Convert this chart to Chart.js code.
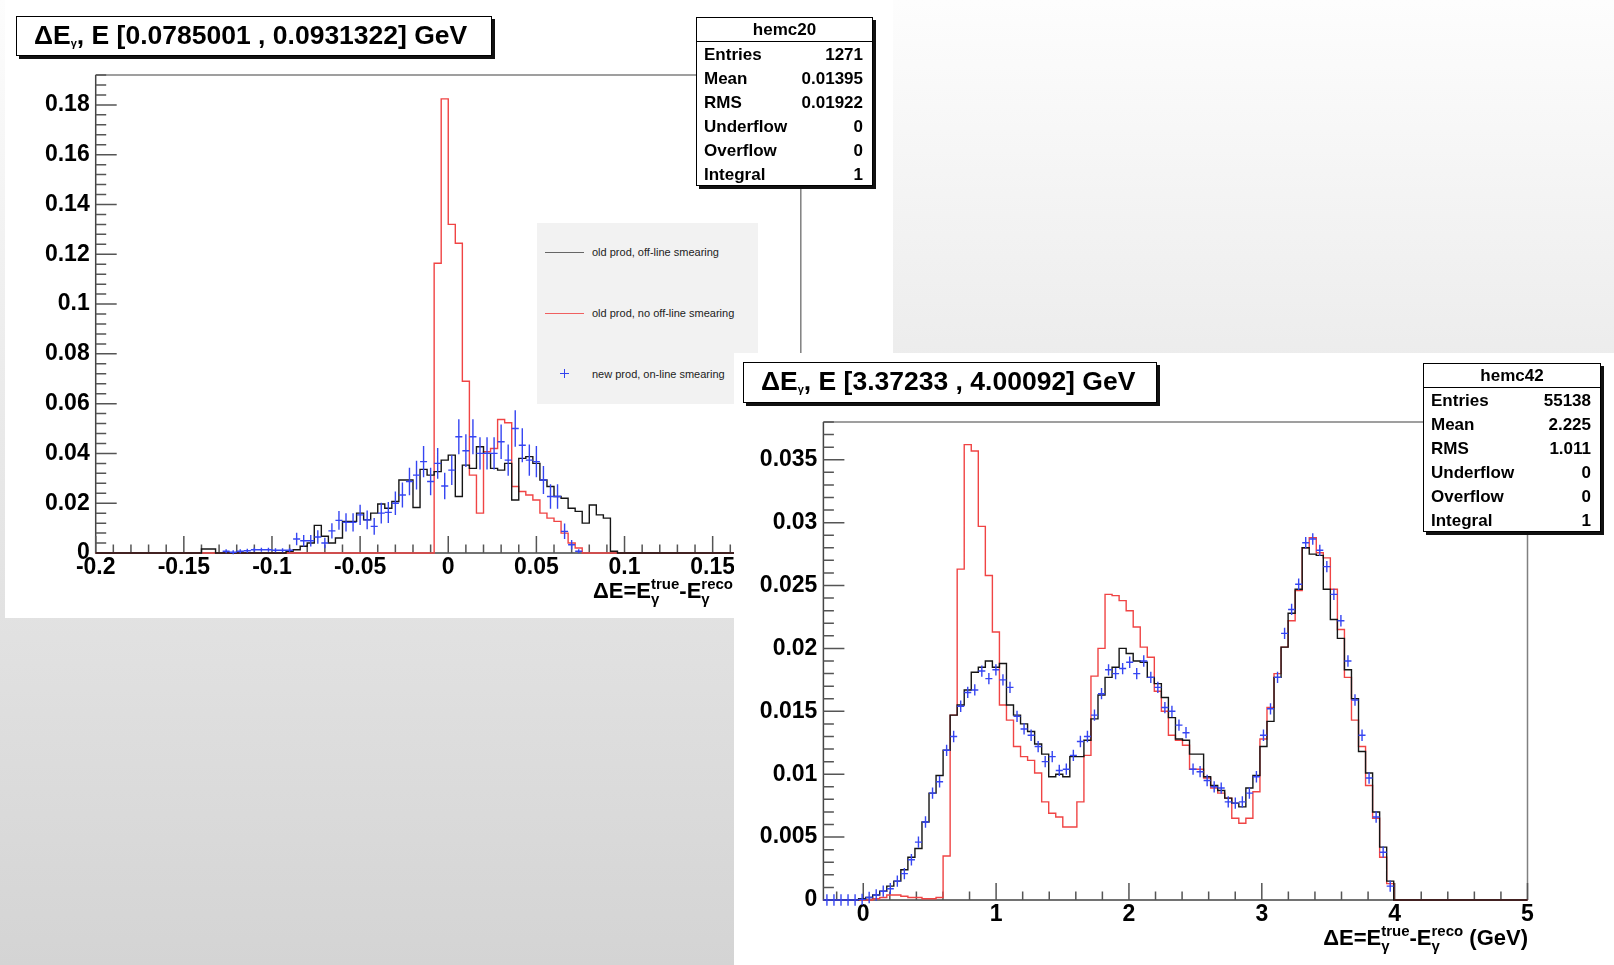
<!DOCTYPE html>
<html>
<head>
<meta charset="utf-8">
<script src="https://cdn.jsdelivr.net/npm/chart.js@4.4.1/dist/chart.umd.min.js"></script>
<style>
body { margin:0; width:1614px; height:965px; overflow:hidden; position:relative;
  background: linear-gradient(#fdfdfd, #ebebeb 40%, #d4d4d4);
  font-family: 'Liberation Sans', Arial, Helvetica, sans-serif; }
.pad { position:absolute; background:#fff; }
.pad canvas { position:absolute; left:0; top:0; }
.tbox, .stats { position:absolute; box-sizing:border-box; border:1.5px solid #000; background:#fff; box-shadow:3px 3px 0 #111; }
.tbox { font-weight:bold; font-size:26.5px; line-height:37px; padding-left:17px; white-space:nowrap; }
.tbox sub { font-size:11px; position:relative; top:3px; vertical-align:baseline; }
.stats { font-weight:bold; font-size:17px; }
.stats .hd { height:23px; line-height:23px; text-align:center; border-bottom:1px solid #000; }
.stats .r { height:24px; line-height:25px; display:flex; justify-content:space-between; padding:0 9px 0 7px; }
.legend { position:absolute; background:#f2f2f2; }
.legend .ln { position:absolute; height:1px; width:39px; left:8px; }
.legend .tx { position:absolute; left:55px; font-size:11px; color:#222; line-height:12px; white-space:nowrap; }
.legend .ph, .legend .pv { position:absolute; background:#3344ee; }
.axt { position:absolute; font-weight:bold; font-size:22px; line-height:22px; white-space:nowrap; }
.ss { display:inline-block; font-size:15px; line-height:15px; vertical-align:-6px; }
.ss span { display:block; }
</style>
</head>
<body>

<div class="pad" style="left:5px;top:0;width:888px;height:618px"><canvas id="leftPlot" width="888" height="618"></canvas></div>
<div class="legend" style="left:537px;top:223px;width:221px;height:181px">
  <div class="ln" style="top:29px;background:#666"></div><div class="tx" style="top:23px">old prod, off-line smearing</div>
  <div class="ln" style="top:90px;background:#f06060"></div><div class="tx" style="top:84px">old prod, no off-line smearing</div>
  <div class="ph" style="left:23px;top:150px;width:9px;height:1px"></div><div class="pv" style="left:27px;top:146px;width:1px;height:9px"></div>
  <div class="tx" style="top:145px">new prod, on-line smearing</div>
</div>
<div class="tbox" style="left:16px;top:16px;width:476px;height:40px">&Delta;E<sub>&gamma;</sub>, E [0.0785001 , 0.0931322] GeV</div>
<div class="stats" style="left:696px;top:17px;width:177px;height:169px">
  <div class="hd">hemc20</div>
  <div class="r"><span>Entries</span><span>1271</span></div>
  <div class="r"><span>Mean</span><span>0.01395</span></div>
  <div class="r"><span>RMS</span><span>0.01922</span></div>
  <div class="r"><span>Underflow</span><span>0</span></div>
  <div class="r"><span>Overflow</span><span>0</span></div>
  <div class="r"><span>Integral</span><span>1</span></div>
</div>
<div class="axt" style="right:881px;top:576px">&Delta;E=E<span class="ss"><span>true</span><span>&gamma;</span></span>-E<span class="ss"><span>reco</span><span>&gamma;</span></span></div>

<div class="pad" style="left:734px;top:353px;width:880px;height:612px"><canvas id="rightPlot" width="880" height="612"></canvas></div>
<div class="tbox" style="left:743px;top:362px;width:414px;height:41px">&Delta;E<sub>&gamma;</sub>, E [3.37233 , 4.00092] GeV</div>
<div class="stats" style="left:1423px;top:363px;width:178px;height:169px">
  <div class="hd">hemc42</div>
  <div class="r"><span>Entries</span><span>55138</span></div>
  <div class="r"><span>Mean</span><span>2.225</span></div>
  <div class="r"><span>RMS</span><span>1.011</span></div>
  <div class="r"><span>Underflow</span><span>0</span></div>
  <div class="r"><span>Overflow</span><span>0</span></div>
  <div class="r"><span>Integral</span><span>1</span></div>
</div>
<div class="axt" style="right:86px;top:923px">&Delta;E=E<span class="ss"><span>true</span><span>&gamma;</span></span>-E<span class="ss"><span>reco</span><span>&gamma;</span></span> (GeV)</div>

<script>
// low energy bin: 100 bins in [-0.2, 0.2]
const leftLo = -0.2, leftHi = 0.2;
const leftBlack = [
  0,0,0,0,0,0,0,0,0,0,
  0,0,0,0,0,0.0016,0.0016,0,0,0,
  0,0,0,0,0,0,0,0.0007,0.0013,0.0027,
  0.0040,0.0111,0.0067,0.0040,0.0060,0.0127,0.0127,0.0160,0.0133,0.0160,
  0.0197,0.0180,0.0207,0.0293,0.0293,0.0183,0.0336,0.0313,0.0327,0.0373,
  0.0393,0.0227,0.0353,0.0340,0.0427,0.0400,0.0340,0.0333,0.0360,0.0213,
  0.0380,0.0387,0.0360,0.0293,0.0267,0.0227,0.0220,0.0180,0.0167,0.0120,
  0.0193,0.0153,0.0140,0.0007,0,0,0,0,0,0,
  0,0,0,0,0,0,0,0,0,0,
  0,0,0,0,0,0,0,0,0,0
];
const leftRed = [
  0,0,0,0,0,0,0,0,0,0,
  0,0,0,0,0,0,0,0,0,0,
  0,0,0,0,0,0,0,0,0,0,
  0,0,0,0,0,0,0,0,0,0,
  0,0,0,0,0,0,0,0,0.1164,0.1824,
  0.1320,0.1244,0.0690,0.0313,0.0160,0.0407,0.0420,0.0536,0.0523,0.0267,
  0.0247,0.0233,0.0213,0.0160,0.0140,0.0127,0.0080,0.0040,0.0020,0,
  0,0,0,0,0,0,0,0,0,0,
  0,0,0,0,0,0,0,0,0,0,
  0,0,0,0,0,0,0,0,0,0
];
// new production starts at bin 18
const leftBlueStart = 18;
const leftBlue = [
  0.0007,0.0003,0.0007,0.0009,0.0013,0.0013,0.0013,0.0011,0.0011,0.0011,
  0.0056,0.0049,0.0049,0.0064,0.0040,0.0089,0.0131,0.0123,0.0123,0.0153,
  0.0133,0.0107,0.0160,0.0163,0.0200,0.0233,0.0287,0.0313,0.0367,0.0287,
  0.0360,0.0269,0.0333,0.0467,0.0411,0.0467,0.0400,0.0400,0.0400,0.0447,
  0.0373,0.0500,0.0433,0.0373,0.0367,0.0293,0.0227,0.0227,0.0087,0.0033,0.0007
];
const leftBlueErr = [
  0.0008,0.0008,0.0008,0.0008,0.0008,0.0008,0.0008,0.0008,0.0008,0.0008,
  0.0025,0.0023,0.0023,0.0027,0.0021,0.0031,0.0038,0.0037,0.0037,0.0041,
  0.0038,0.0034,0.0042,0.0042,0.0047,0.0050,0.0055,0.0058,0.0063,0.0055,
  0.0062,0.0053,0.0060,0.0070,0.0066,0.0070,0.0065,0.0065,0.0065,0.0069,
  0.0063,0.0073,0.0068,0.0063,0.0063,0.0056,0.0049,0.0049,0.0031,0.0019,0.0008
];
const leftXTicks = [-0.2, -0.15, -0.1, -0.05, 0, 0.05, 0.1, 0.15];
const leftXLabels = ['-0.2', '-0.15', '-0.1', '-0.05', '0', '0.05', '0.1', '0.15'];
const leftYTicks = [0, 0.02, 0.04, 0.06, 0.08, 0.1, 0.12, 0.14, 0.16, 0.18];
const leftYLabels = ['0', '0.02', '0.04', '0.06', '0.08', '0.1', '0.12', '0.14', '0.16', '0.18'];

// high energy bin: 100 bins in [-0.3, 5]
const rightLo = -0.3, rightHi = 5.0;
const rightBlack = [
  0,0,0,0,0,0.0001,0.0002,0.0004,0.0007,0.0011,
  0.0015,0.0024,0.0034,0.0041,0.0062,0.0085,0.0099,0.0119,0.0147,0.0155,
  0.0167,0.0181,0.0185,0.0190,0.0185,0.0188,0.0155,0.0147,0.0140,0.0134,
  0.0124,0.0116,0.0098,0.0100,0.0098,0.0114,0.0114,0.0127,0.0144,0.0163,
  0.0177,0.0185,0.0200,0.0196,0.0190,0.0189,0.0177,0.0172,0.0161,0.0145,
  0.0128,0.0127,0.0116,0.0116,0.0098,0.0091,0.0087,0.0081,0.0077,0.0074,
  0.0089,0.0099,0.0122,0.0142,0.0177,0.0201,0.0228,0.0247,0.0280,0.0275,
  0.0274,0.0247,0.0223,0.0208,0.0183,0.0160,0.0118,0.0101,0.0070,0.0042,
  0.0015,0,0,0,0,0,0,0,0,0,
  0,0,0,0,0,0,0,0,0,0
];
const rightRed = [
  0,0,0,0,0,0,0,0.0001,0.0002,0.0004,
  0.0004,0.0003,0.0002,0.0002,0.0001,0.0001,0.0002,0.0035,0.0147,0.0263,
  0.0362,0.0357,0.0297,0.0258,0.0213,0.0155,0.0143,0.0122,0.0114,0.0111,
  0.0101,0.0078,0.0069,0.0066,0.0058,0.0058,0.0078,0.0115,0.0178,0.0200,
  0.0243,0.0242,0.0238,0.0230,0.0217,0.0201,0.0193,0.0166,0.0150,0.0131,
  0.0127,0.0123,0.0104,0.0104,0.0097,0.0089,0.0085,0.0081,0.0065,0.0061,
  0.0065,0.0086,0.0128,0.0153,0.0180,0.0201,0.0222,0.0246,0.0280,0.0288,
  0.0276,0.0272,0.0247,0.0215,0.0177,0.0143,0.0122,0.0091,0.0065,0.0034,
  0.0013,0,0,0,0,0,0,0,0,0,
  0,0,0,0,0,0,0,0,0,0
];
const rightBlueStart = 0;
const rightBlue = [
  0,0,0,0,0,0.00005,0.0002,0.0004,0.0007,0.0009,
  0.0015,0.0021,0.0032,0.0046,0.0062,0.0085,0.0094,0.0119,0.0130,0.0154,
  0.0165,0.0167,0.0182,0.0176,0.0183,0.0175,0.0169,0.0146,0.0136,0.0131,
  0.0122,0.0110,0.0114,0.0103,0.0104,0.0115,0.0126,0.0130,0.0147,0.0164,
  0.0183,0.0180,0.0184,0.0189,0.0180,0.0190,0.0177,0.0169,0.0153,0.0150,
  0.0139,0.0133,0.0104,0.0102,0.0095,0.0090,0.0089,0.0078,0.0077,0.0078,
  0.0085,0.0098,0.0131,0.0152,0.0177,0.0212,0.0231,0.0251,0.0284,0.0287,
  0.0278,0.0265,0.0243,0.0222,0.0190,0.0159,0.0131,0.0097,0.0066,0.0038,0.0011
];
const rightBlueErr = 0.00045;
const rightXTicks = [0, 1, 2, 3, 4, 5];
const rightXLabels = ['0', '1', '2', '3', '4', '5'];
const rightYTicks = [0, 0.005, 0.01, 0.015, 0.02, 0.025, 0.03, 0.035];
const rightYLabels = ['0', '0.005', '0.01', '0.015', '0.02', '0.025', '0.03', '0.035'];

// outline of a histogram: two points per bin
function histPoints(lo, hi, vals) {
  const w = (hi - lo) / vals.length;
  const pts = [];
  vals.forEach((v, k) => {
    pts.push({x: lo + k * w, y: v});
    pts.push({x: lo + (k + 1) * w, y: v});
  });
  return pts;
}

function crossPoints(lo, hi, nbins, start, vals, errs) {
  const w = (hi - lo) / nbins;
  return vals.map((v, i) => ({
    x: lo + (start + i + 0.5) * w,
    y: v,
    err: Array.isArray(errs) ? errs[i] : errs
  }));
}

// ROOT style frame: ticks inside, on left and bottom only
const rootFrame = {
  id: 'rootFrame',
  beforeDatasetsDraw(chart, args, o) {
    const {ctx, chartArea: a} = chart;
    const xs = chart.scales.x, ys = chart.scales.y;
    ctx.save();
    ctx.lineWidth = 1.5;
    ctx.strokeStyle = '#808080';
    ctx.beginPath();
    ctx.moveTo(a.left, a.top); ctx.lineTo(a.right, a.top); ctx.lineTo(a.right, a.bottom);
    ctx.stroke();
    ctx.strokeStyle = '#444';
    ctx.beginPath();
    ctx.moveTo(a.left, a.top); ctx.lineTo(a.left, a.bottom); ctx.lineTo(a.right, a.bottom);
    ctx.stroke();
    ctx.strokeStyle = '#555';
    ctx.beginPath();
    for (let i = Math.ceil(ys.min / o.yMinor - 1e-6); i * o.yMinor <= ys.max + 1e-9; i++) {
      const v = i * o.yMinor;
      const major = Math.abs(v / o.yMajor - Math.round(v / o.yMajor)) < 1e-6;
      const y = ys.getPixelForValue(v);
      ctx.moveTo(a.left, y); ctx.lineTo(a.left + (major ? 21 : 10.5), y);
    }
    for (let i = Math.ceil(xs.min / o.xMinor - 1e-6); i * o.xMinor <= xs.max + 1e-9; i++) {
      const v = i * o.xMinor;
      const major = Math.abs(v / o.xMajor - Math.round(v / o.xMajor)) < 1e-6;
      const x = xs.getPixelForValue(v);
      ctx.moveTo(x, a.bottom); ctx.lineTo(x, a.bottom - (major ? 17 : 8.5));
    }
    ctx.stroke();
    ctx.restore();
  },
  afterDatasetsDraw(chart, args, o) {
    const {ctx} = chart;
    const xs = chart.scales.x, ys = chart.scales.y;
    chart.data.datasets.forEach((ds) => {
      if (!ds.errorBars) return;
      ctx.save();
      ctx.strokeStyle = ds.borderColor;
      ctx.lineWidth = 1.4;
      ctx.beginPath();
      ds.data.forEach((p) => {
        const x = xs.getPixelForValue(p.x), y = ys.getPixelForValue(p.y);
        ctx.moveTo(xs.getPixelForValue(p.x - o.binW / 2), y);
        ctx.lineTo(xs.getPixelForValue(p.x + o.binW / 2), y);
        ctx.moveTo(x, ys.getPixelForValue(p.y - p.err));
        ctx.lineTo(x, ys.getPixelForValue(p.y + p.err));
      });
      ctx.stroke();
      ctx.restore();
    });
  }
};

const tickFont = {family: "'Liberation Sans', Arial, Helvetica, sans-serif", weight: 'bold', size: 23};

function makePlot(canvasId, cfg) {
  return new Chart(document.getElementById(canvasId), {
    type: 'line',
    data: {
      datasets: [
        {label: 'old prod, off-line smearing', data: histPoints(cfg.lo, cfg.hi, cfg.black),
         borderColor: '#151515', borderWidth: 1.4, pointRadius: 0, tension: 0, clip: false},
        {label: 'old prod, no off-line smearing', data: histPoints(cfg.lo, cfg.hi, cfg.red),
         borderColor: '#f04444', borderWidth: 1.4, pointRadius: 0, tension: 0, clip: false},
        {label: 'new prod, on-line smearing', data: crossPoints(cfg.lo, cfg.hi, cfg.black.length, cfg.blueStart, cfg.blue, cfg.blueErr),
         borderColor: '#3545f2', showLine: false, pointRadius: 0, errorBars: true, clip: false}
      ]
    },
    options: {
      responsive: false,
      animation: false,
      devicePixelRatio: 1,
      layout: {padding: cfg.padding},
      plugins: {
        legend: {display: false},
        tooltip: {enabled: false},
        rootFrame: {xMajor: cfg.xMajor, xMinor: cfg.xMinor, yMajor: cfg.yMajor, yMinor: cfg.yMinor,
                    binW: (cfg.hi - cfg.lo) / cfg.black.length}
      },
      scales: {
        x: {
          type: 'linear', min: cfg.lo, max: cfg.hi,
          grid: {display: false, drawTicks: false}, border: {display: false},
          afterFit: (s) => { s.height = 40; },
          afterBuildTicks: (s) => { s.ticks = cfg.xTicks.map(v => ({value: v})); },
          ticks: {autoSkip: false, maxRotation: 0, padding: 1, font: tickFont, color: '#000',
                  callback: (v, i) => cfg.xLabels[i]}
        },
        y: {
          type: 'linear', min: 0, max: cfg.yMax,
          grid: {display: false, drawTicks: false}, border: {display: false},
          afterFit: (s) => { s.width = cfg.yWidth; },
          afterBuildTicks: (s) => { s.ticks = cfg.yTicks.map(v => ({value: v})); },
          ticks: {autoSkip: false, padding: 6, font: tickFont, color: '#000',
                  callback: (v, i) => cfg.yLabels[i]}
        }
      }
    },
    plugins: [rootFrame]
  });
}

makePlot('leftPlot', {
  lo: leftLo, hi: leftHi, black: leftBlack, red: leftRed,
  blue: leftBlue, blueStart: leftBlueStart, blueErr: leftBlueErr,
  xTicks: leftXTicks, xLabels: leftXLabels, yTicks: leftYTicks, yLabels: leftYLabels,
  yMax: 0.192, xMajor: 0.05, xMinor: 0.01, yMajor: 0.02, yMinor: 0.004,
  yWidth: 90.7, padding: {left: 0, right: 92.2, top: 75, bottom: 25}
});

makePlot('rightPlot', {
  lo: rightLo, hi: rightHi, black: rightBlack, red: rightRed,
  blue: rightBlue, blueStart: rightBlueStart, blueErr: rightBlueErr,
  xTicks: rightXTicks, xLabels: rightXLabels, yTicks: rightYTicks, yLabels: rightYLabels,
  yMax: 0.038, xMajor: 1, xMinor: 0.2, yMajor: 0.005, yMinor: 0.001,
  yWidth: 89.4, padding: {left: 0, right: 86.5, top: 69, bottom: 25}
});
</script>
</body>
</html>
